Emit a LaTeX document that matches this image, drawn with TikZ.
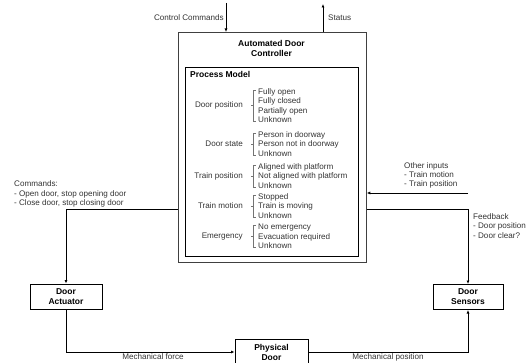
\documentclass[tikz,border=0pt]{standalone}
\usepackage{fontspec}
\setmainfont{Liberation Sans}
\usetikzlibrary{arrows.meta, positioning}
\definecolor{TXT}{rgb}{0.2,0.2,0.2}

\begin{document}
\begin{tikzpicture}[x=1pt, y=-1pt,
  item/.style={inner sep=0pt, text=TXT, font=\fontsize{8.1}{9.3}\selectfont},
  block/.style={draw, line width=1pt, minimum width=72pt, minimum height=25pt, align=center, inner sep=1pt, font=\bfseries\fontsize{8.5}{10}\selectfont},
  wire/.style={line width=0.8pt, -{Latex[length=3.5pt,width=3pt]}},
  bracket/.style={draw=black!55, line width=0.6pt}]
\useasboundingbox (0,0) rectangle (532,363);

% controller and process model
\node[draw=black!75, line width=1.3pt, minimum width=188pt, minimum height=230pt, anchor=north west] (ctrl) at (177.5,32) {};
\node[align=center, inner sep=0pt, font=\bfseries\fontsize{8.5}{10}\selectfont] (title) at (271.5,48) {Automated Door\\Controller};
\node[draw, line width=1pt, minimum width=173pt, minimum height=189pt, anchor=north west] (pm) at (184.5,67) {};
\node[anchor=west, inner sep=0pt, font=\bfseries\fontsize{8.5}{10}\selectfont] (pmtitle) at (190,74) {Process Model};

\foreach \n/\lab/\y/\items in {
  dpos/Door position/105.5/{Fully open\\Fully closed\\Partially open\\Unknown},
  dstate/Door state/144/{Person in doorway\\Person not in doorway\\Unknown},
  tpos/Train position/176/{Aligned with platform\\Not aligned with platform\\Unknown},
  tmot/Train motion/206/{Stopped\\Train is moving\\Unknown},
  emerg/Emergency/236.5/{No emergency\\Evacuation required\\Unknown}}
{
  \node[item, anchor=east] (\n-lab) at (243,\y) {\lab};
  \node[item, anchor=west, align=left] (\n-list) at (258,\y) {\items};
  \draw[bracket] ([shift={(-2pt,-1.5pt)}]\n-list.north west) -- ([shift={(-5pt,-1.5pt)}]\n-list.north west)
    -- ([shift={(-5pt,1.5pt)}]\n-list.south west) -- ([shift={(-2pt,1.5pt)}]\n-list.south west);
  \draw[bracket] ([xshift=-5pt]\n-list.west) -- ++(-2,0);
}

% plant side
\node[block] (act) at (66,296.5) {Door\\Actuator};
\node[block, minimum width=70pt] (sens) at (468,297) {Door\\Sensors};
\node[block, minimum width=73pt, minimum height=26pt] (door) at (271.5,352) {Physical\\Door};

% free ends
\coordinate (cc) at (226,3);
\coordinate (st) at (323,4);
\coordinate (oin) at (468,193);
\coordinate (cmd) at (ctrl.west |- 0,209);
\coordinate (fb) at (ctrl.east |- 0,209);

\draw[wire] (cc) -- (cc |- ctrl.north);
\draw[wire] (st |- ctrl.north) -- (st);
\draw[wire] (oin) -- (oin -| ctrl.east);
\draw[wire] (cmd) -| (act.north);
\draw[wire] (fb) -| (sens.north);
\draw[wire] (act.south) |- (door.west);
\draw[wire] (door.east) -| (sens.south);

% labels
\node[item, anchor=east] (cclab) at (224,18) {Control Commands};
\node[item, anchor=west] (stlab) at (328,18) {Status};
\node[item, anchor=west, align=left] (cmdlab) at (14,194) {Commands:\\- Open door, stop opening door\\- Close door, stop closing door};
\node[item, anchor=west, align=left] (oinlab) at (404,175.5) {Other inputs\\- Train motion\\- Train position};
\node[item, anchor=west, align=left] (fblab) at (473,226) {Feedback\\- Door position\\- Door clear?};
\node[item] (forcelab) at (153,357) {Mechanical force};
\node[item] (poslab) at (388,357) {Mechanical position};
\end{tikzpicture}
\end{document}
